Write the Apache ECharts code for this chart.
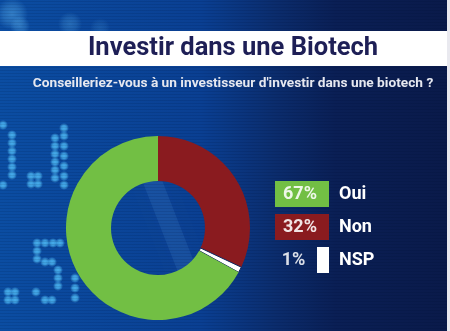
<!DOCTYPE html>
<html>
<head>
<meta charset="utf-8">
<script src="https://cdn.jsdelivr.net/npm/echarts@6/dist/echarts.min.js"></script>
<style>
  html, body { margin: 0; padding: 0; background: #e9e9ef; }
  #chart { width: 450px; height: 331px; }
</style>
</head>
<body>
<div id="chart"></div>
<script>
// Survey answers
const categories = ['Oui', 'Non', 'NSP'];
const values = [67, 32, 1];
// Order in which the ring is drawn, clockwise from 12 o'clock
const ringOrder = ['Non', 'NSP', 'Oui'];

const titleText = 'Investir dans une Biotech';
const questionText = "Conseilleriez-vous à un investisseur d'investir dans une biotech ?";

const palette = { Oui: '#72bf44', Non: '#8a1b1f', NSP: '#ffffff' };

// Decorative dot-matrix digits glowing in the background
const dotDecor = [
  [3,125],[3,185],
  [12,135],[12,143],[12,151],[12,159],[12,167],[12,175],
  [31,176],[38,176],[31,184],[38,184],
  [55,138],[55,146],[55,154],[55,162],[55,170],[55,178],
  [64,128],[64,136],[64,146],[64,156],[64,166],[64,176],[64,185],
  [37,243],[45,243],[53,243],[60,243],
  [37,251],[37,259],[45,262],[52,262],
  [58,270],[58,278],[58,286],
  [36,292],[45,300],[52,300],
  [8,292],[15,292],[8,300],[15,300],
  [75,278],[75,288],[75,298]
];

const W = 447, H = 331;
const graphics = [];

function glow(cx, cy, r, rgb, a) {
  return {
    type: 'circle', silent: true, z: -9,
    shape: { cx: cx, cy: cy, r: r },
    style: {
      fill: new echarts.graphic.RadialGradient(0.5, 0.5, 0.5, [
        { offset: 0, color: 'rgba(' + rgb + ',' + a + ')' },
        { offset: 0.55, color: 'rgba(' + rgb + ',' + (a * 0.6) + ')' },
        { offset: 1, color: 'rgba(' + rgb + ',0)' }
      ])
    }
  };
}

// background gradient
graphics.push({
  type: 'rect', silent: true, z: -10,
  shape: { x: 0, y: 0, width: W, height: H },
  style: {
    fill: new echarts.graphic.LinearGradient(0, 0, 1, 0, [
      { offset: 0, color: '#0b4da2' },
      { offset: 0.45, color: '#0a3f92' },
      { offset: 0.62, color: '#0b2c6c' },
      { offset: 0.75, color: '#0a1f55' },
      { offset: 1, color: '#0a1a4a' }
    ])
  }
});
// soft glows in the top band
graphics.push(glow(12, 14, 16, '90,175,235', 0.5));
graphics.push(glow(20, 26, 10, '90,175,235', 0.45));
graphics.push(glow(70, 24, 12, '90,175,235', 0.35));
graphics.push(glow(100, 28, 10, '90,175,235', 0.2));
// faint light streak through the ring
graphics.push({
  type: 'polygon', silent: true, z: -9,
  shape: { points: [[140, 175], [160, 175], [205, 290], [185, 290]] },
  style: { fill: 'rgba(130,195,255,0.10)', shadowBlur: 10, shadowColor: 'rgba(130,195,255,0.2)' }
});
// dot-matrix digits
dotDecor.forEach(function (p) {
  graphics.push({
    type: 'circle', silent: true, z: -8,
    shape: { cx: p[0], cy: p[1], r: 5 },
    style: {
      fill: new echarts.graphic.RadialGradient(0.5, 0.5, 0.5, [
        { offset: 0, color: 'rgba(75,180,240,0.95)' },
        { offset: 0.5, color: 'rgba(75,180,240,0.75)' },
        { offset: 1, color: 'rgba(75,180,240,0)' }
      ])
    }
  });
});
// horizontal scan lines
for (let y = 1; y < H; y += 3) {
  graphics.push({
    type: 'rect', silent: true, z: -7,
    shape: { x: 0, y: y, width: W, height: 1 },
    style: { fill: 'rgba(0,10,40,0.10)' }
  });
}
// title band
graphics.push({
  type: 'rect', silent: true, z: 1,
  shape: { x: 0, y: 31, width: W, height: 35 },
  style: { fill: '#ffffff' }
});
graphics.push({
  type: 'text', silent: true, z: 2,
  x: 233, y: 49,
  style: {
    text: titleText, fill: '#1e1f56',
    font: 'bold 25.5px Roboto, sans-serif',
    textAlign: 'center', textVerticalAlign: 'middle'
  }
});
graphics.push({
  type: 'text', silent: true, z: 2,
  x: 233, y: 84,
  style: {
    text: questionText, fill: '#e6e8f0',
    font: 'bold 13.7px Roboto, sans-serif',
    textAlign: 'center', textVerticalAlign: 'middle'
  }
});
// light strip on the right edge
graphics.push({
  type: 'rect', silent: true, z: 1,
  shape: { x: W, y: 0, width: 450 - W, height: H },
  style: { fill: '#e9e9ef' }
});

const valueOf = function (name) { return values[categories.indexOf(name)]; };

const ringData = ringOrder.map(function (name) {
  const item = { name: name, value: valueOf(name), itemStyle: { color: palette[name] } };
  if (name === 'NSP') {
    item.itemStyle.borderColor = '#13265c';
    item.itemStyle.borderWidth = 1;
  }
  return item;
});

const boxStyle = function (bg) {
  return {
    backgroundColor: bg, color: 'rgba(255,255,255,0.88)',
    width: 50, height: 26, lineHeight: 26, padding: [0, 4, 0, 0], align: 'right',
    fontFamily: 'Roboto', fontWeight: 'bold', fontSize: 18
  };
};

const chart = echarts.init(document.getElementById('chart'), null, { renderer: 'canvas' });
chart.setOption({
  backgroundColor: 'transparent',
  animation: false,
  graphic: graphics,
  legend: {
    data: categories,
    orient: 'vertical',
    left: 265,
    top: 176,
    itemGap: 7,
    icon: 'none',
    itemWidth: 0,
    itemHeight: 0,
    selectedMode: false,
    formatter: function (name) {
      const v = valueOf(name);
      if (name === 'NSP') {
        return '{t|' + v + '%}{gap|}{bar|}{sp|}{n|' + name + '}';
      }
      return '{b' + categories.indexOf(name) + '|' + v + '%}{sp|}{n|' + name + '}';
    },
    textStyle: {
      rich: {
        b0: boxStyle(palette.Oui),
        b1: boxStyle(palette.Non),
        t: { color: 'rgba(255,255,255,0.85)', width: 37, height: 26, lineHeight: 26, align: 'right', fontFamily: 'Roboto', fontWeight: 'bold', fontSize: 18 },
        gap: { width: 5, height: 26 },
        bar: { backgroundColor: '#ffffff', width: 12, height: 26 },
        sp: { width: 10, height: 26 },
        n: { color: '#ffffff', height: 26, lineHeight: 26, fontFamily: 'Roboto', fontWeight: 'bold', fontSize: 18 }
      }
    }
  },
  series: [{
    type: 'pie',
    center: [158, 228],
    radius: [47, 92],
    startAngle: 90,
    clockwise: true,
    avoidLabelOverlap: false,
    label: { show: false },
    labelLine: { show: false },
    emphasis: { disabled: true },
    data: ringData
  }]
});
</script>
</body>
</html>
